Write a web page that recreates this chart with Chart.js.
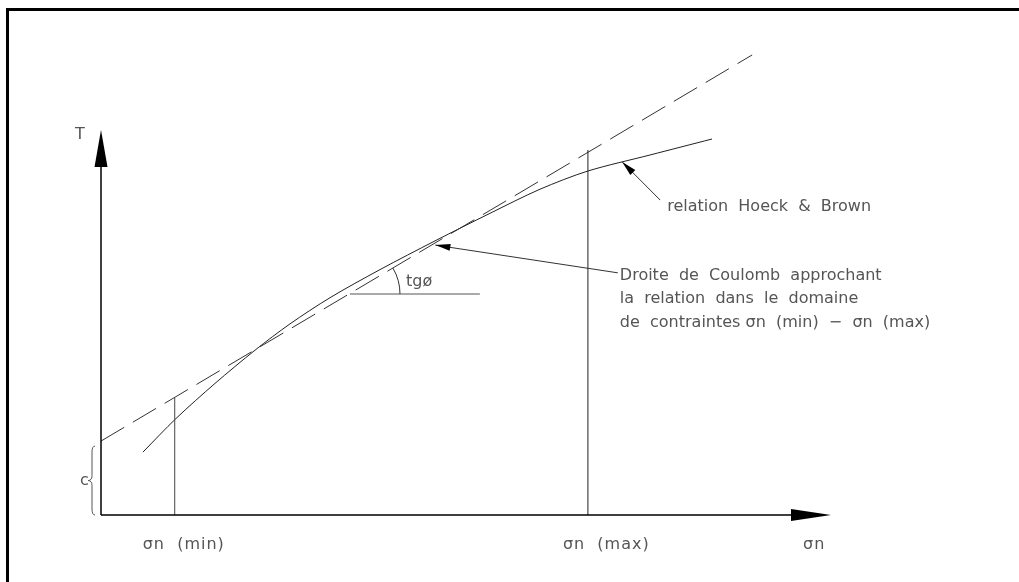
<!DOCTYPE html>
<html><head><meta charset="utf-8">
<script src="https://cdn.jsdelivr.net/npm/chart.js@4.4.1/dist/chart.umd.min.js"></script>
<style>html,body{margin:0;padding:0;background:#fff;}#wrap{width:1019px;height:582px;}</style>
</head><body><div id="wrap"><canvas id="c" width="1019" height="582"></canvas></div>
<script>
// Data (σn horizontal, τ vertical, arbitrary units)
const hoekX = [5.75, 10.27, 15.62, 21.10, 25.89, 31.37, 38.22, 45.75, 53.29, 60.14, 66.71, 75.21, 83.70];
const hoekY = [16.34, 25.06, 34.18, 42.81, 49.64, 56.44, 63.74, 71.19, 78.36, 84.62, 89.35, 93.51, 97.66];
const coulombX = [0, 89.2];
const coulombY = [19.2, 119.5];
const boundX = [10.1, 66.7];          // σn(min), σn(max)
const boundTop = [30.4, 94.8];
const axisMax = [100, 100];           // σn axis end, τ axis end
const cohesion = 19.2;
const xLabels = ['σn  (min)', 'σn  (max)', 'σn'];
const yLabel = 'T';
const cLabel = 'c';
const hoekLabel = 'relation  Hoeck  &  Brown';
const coulombLabel = ['Droite  de  Coulomb  approchant', 'la  relation  dans  le  domaine', 'de  contraintes σn  (min)  −  σn  (max)'];
const angleLabel = 'tgø';
const tgLine = {x: [34.1, 51.9], y: 57.4};
const hoekArrow = {from: [76.6, 81.8], to: [71.4, 91.7]};
const coulombArrow = {from: [70.8, 62.9], to: [45.8, 70.1]};

const pts = (xs, ys) => xs.map((x, i) => ({x, y: ys[i]}));
const INK = '#222', TXT = '#555';
const FONT = '16px "DejaVu Sans"';

const deco = {
  id: 'deco',
  beforeDraw(chart) {
    const ctx = chart.ctx;
    ctx.save();
    ctx.fillStyle = '#fff';
    ctx.fillRect(0, 0, chart.width, chart.height);
    ctx.strokeStyle = '#000';
    ctx.lineWidth = 3;
    ctx.beginPath();
    ctx.moveTo(7.5, 582); ctx.lineTo(7.5, 9.5); ctx.lineTo(1019, 9.5);
    ctx.stroke();
    ctx.restore();
  },
  afterDatasetsDraw(chart) {
    const ctx = chart.ctx, xs = chart.scales.x, ys = chart.scales.y;
    const X = v => xs.getPixelForValue(v), Y = v => ys.getPixelForValue(v);
    ctx.save();
    // axis arrowheads
    ctx.fillStyle = '#000';
    ctx.beginPath();
    ctx.moveTo(X(axisMax[0]), Y(0)); ctx.lineTo(X(axisMax[0]) - 40, Y(0) - 6); ctx.lineTo(X(axisMax[0]) - 40, Y(0) + 6); ctx.closePath(); ctx.fill();
    ctx.beginPath();
    ctx.moveTo(X(0), Y(axisMax[1])); ctx.lineTo(X(0) - 6.5, Y(axisMax[1]) + 37); ctx.lineTo(X(0) + 6.5, Y(axisMax[1]) + 37); ctx.closePath(); ctx.fill();
    // leader arrows
    const leader = (a) => {
      const x1 = X(a.from[0]), y1 = Y(a.from[1]), x2 = X(a.to[0]), y2 = Y(a.to[1]);
      ctx.strokeStyle = '#333'; ctx.lineWidth = 1;
      ctx.beginPath(); ctx.moveTo(x1, y1); ctx.lineTo(x2, y2); ctx.stroke();
      const ang = Math.atan2(y2 - y1, x2 - x1), L = 15, W = 3.5;
      const bx = x2 - L * Math.cos(ang), by = y2 - L * Math.sin(ang);
      ctx.fillStyle = '#000';
      ctx.beginPath(); ctx.moveTo(x2, y2);
      ctx.lineTo(bx + W * Math.sin(ang), by - W * Math.cos(ang));
      ctx.lineTo(bx - W * Math.sin(ang), by + W * Math.cos(ang));
      ctx.closePath(); ctx.fill();
    };
    leader(hoekArrow); leader(coulombArrow);
    // angle arc
    const slope = (Y(coulombY[1]) - Y(coulombY[0])) / (X(coulombX[1]) - X(coulombX[0]));
    const cy = Y(tgLine.y);
    const cx = X(coulombX[0]) + (cy - Y(coulombY[0])) / slope;
    ctx.strokeStyle = '#333'; ctx.lineWidth = 1;
    ctx.beginPath(); ctx.arc(cx, cy, 51, Math.atan(slope), 0); ctx.stroke();
    // brace for c
    const bt = Y(cohesion) + 5, bb = Y(0), bm = (bt + bb) / 2, bxr = X(0) - 6;
    ctx.strokeStyle = '#555'; ctx.lineWidth = 1;
    ctx.beginPath();
    ctx.moveTo(bxr, bt);
    ctx.quadraticCurveTo(bxr - 3, bt, bxr - 3, bt + 6);
    ctx.lineTo(bxr - 3, bm - 5);
    ctx.quadraticCurveTo(bxr - 3, bm, bxr - 7, bm);
    ctx.quadraticCurveTo(bxr - 3, bm, bxr - 3, bm + 5);
    ctx.lineTo(bxr - 3, bb - 6);
    ctx.quadraticCurveTo(bxr - 3, bb, bxr, bb);
    ctx.stroke();
    // texts
    ctx.fillStyle = TXT; ctx.font = FONT; ctx.textBaseline = 'middle'; ctx.textAlign = 'left';
    ctx.letterSpacing = '1px';
    const lx = [X(boundX[0]) - 32, X(boundX[1]) - 25, X(axisMax[0]) - 28];
    xLabels.forEach((t, i) => ctx.fillText(t, lx[i], Y(0) + 30));
    ctx.letterSpacing = '0px';
    ctx.fillText(yLabel, X(0) - 26, Y(axisMax[1]) + 5);
    ctx.fillText(cLabel, X(0) - 21, bm);
    ctx.fillText(hoekLabel, X(hoekArrow.from[0]) + 7, Y(hoekArrow.from[1]) + 7);
    coulombLabel.forEach((t, i) => ctx.fillText(t, X(coulombArrow.from[0]) + 2, Y(coulombArrow.from[1]) + 3 + i * 23.5));
    ctx.fillText(angleLabel, cx + 57, cy - 12);
    ctx.restore();
  }
};

const line = (data, extra) => Object.assign({data, showLine: true, pointRadius: 0, borderColor: INK, borderWidth: 1, fill: false, clip: false}, extra);

new Chart(document.getElementById('c'), {
  type: 'scatter',
  data: {
    datasets: [
      line(pts([0, axisMax[0] - 4], [0, 0]), {borderColor: '#000', borderWidth: 1.5}),
      line(pts([0, 0], [0, axisMax[1] - 8]), {borderColor: '#000', borderWidth: 1.5}),
      line(pts([boundX[0], boundX[0]], [0, boundTop[0]]), {borderColor: '#444'}),
      line(pts([boundX[1], boundX[1]], [0, boundTop[1]]), {borderColor: '#222'}),
      line(pts(coulombX, coulombY), {borderColor: '#333', borderDash: [27, 10]}),
      line(pts(hoekX, hoekY), {borderColor: '#222', tension: 0.3}),
      line(pts(tgLine.x, [tgLine.y, tgLine.y]), {borderColor: '#555'})
    ]
  },
  options: {
    responsive: false, animation: false,
    layout: {padding: {left: 101, right: 188, top: 14.5, bottom: 67}},
    plugins: {legend: {display: false}, tooltip: {enabled: false}},
    scales: {
      x: {type: 'linear', min: 0, max: 100, display: false},
      y: {type: 'linear', min: 0, max: 130, display: false}
    }
  },
  plugins: [deco]
});
</script></body></html>
